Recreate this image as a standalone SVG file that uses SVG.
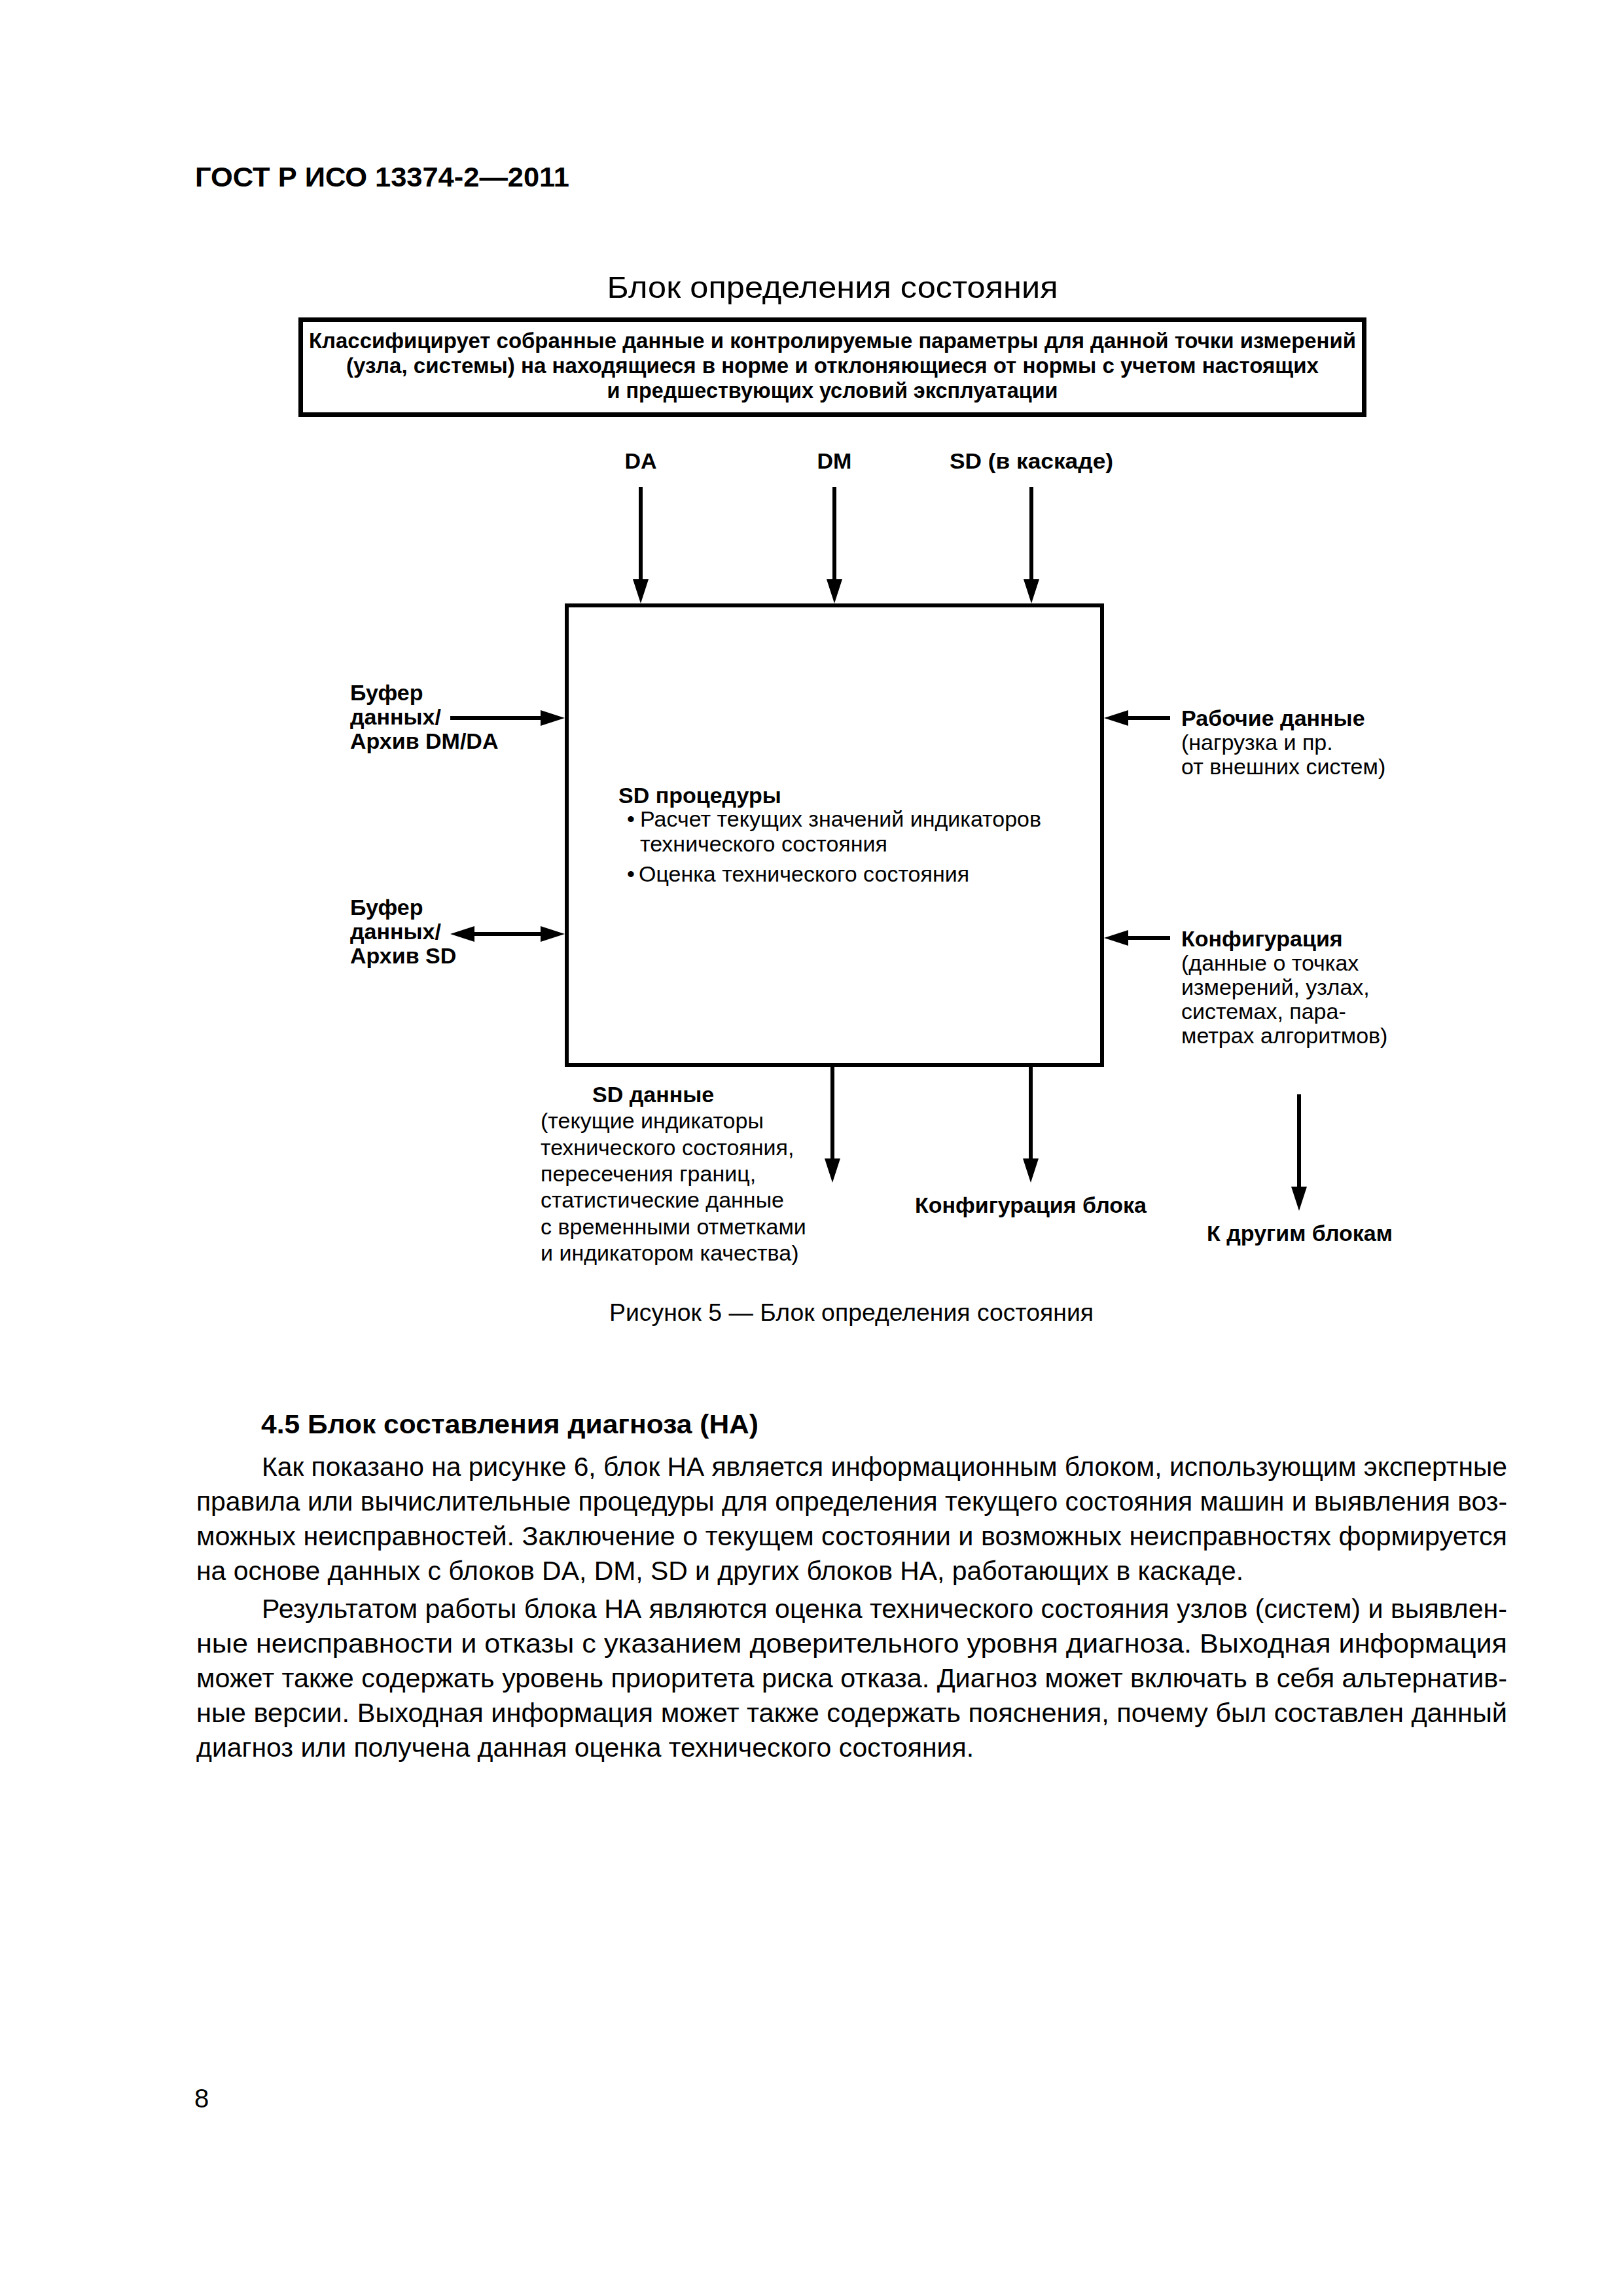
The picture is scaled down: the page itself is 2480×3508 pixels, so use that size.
<svg xmlns="http://www.w3.org/2000/svg" width="2480" height="3508" viewBox="0 0 2480 3508">
<style>
text{font-family:"Liberation Sans",Arial,sans-serif;fill:#000}
.b{font-weight:bold}
.lbl{font-size:34px}
.body{font-size:41px}
.frame{fill:none;stroke:#000}
.con{stroke:#000;stroke-width:6;fill:none}
</style>
<defs>
<marker id="ah" markerUnits="userSpaceOnUse" markerWidth="37" markerHeight="24" refX="0" refY="12" orient="auto-start-reverse" viewBox="0 0 37 24"><path d="M0,0 L37,12 L0,24 z" fill="#000"/></marker>
</defs>
<rect width="2480" height="3508" fill="#fff"/>

<g id="page-header">
<text x="298" y="285" class="b" font-size="42" textLength="572" lengthAdjust="spacingAndGlyphs">ГОСТ Р ИСО 13374-2—2011</text>
</g>

<g id="diagram-title">
<text x="1272" y="455" font-size="46" text-anchor="middle" textLength="689" lengthAdjust="spacingAndGlyphs">Блок определения состояния</text>
</g>

<g id="node-description">
<rect class="frame" stroke-width="7" x="459.5" y="488.5" width="1625" height="145"/>
<text class="b" font-size="33" x="1272" y="532" text-anchor="middle" textLength="1600" lengthAdjust="spacingAndGlyphs">Классифицирует собранные данные и контролируемые параметры для данной точки измерений</text>
<text class="b" font-size="33" x="1272" y="570" text-anchor="middle" textLength="1486" lengthAdjust="spacingAndGlyphs">(узла, системы) на находящиеся в норме и отклоняющиеся от нормы с учетом настоящих</text>
<text class="b" font-size="33" x="1272" y="608" text-anchor="middle" textLength="689" lengthAdjust="spacingAndGlyphs">и предшествующих условий эксплуатации</text>
</g>

<g id="node-inputs-top">
<text class="b lbl" x="979" y="716" text-anchor="middle">DA</text>
<text class="b lbl" x="1275" y="716" text-anchor="middle">DM</text>
<text class="b lbl" x="1576" y="716" text-anchor="middle" textLength="250" lengthAdjust="spacingAndGlyphs">SD (в каскаде)</text>
</g>

<g id="node-sd-block">
<rect class="frame" stroke-width="6" x="866" y="925" width="818" height="702"/>
<text class="b lbl" x="945" y="1227">SD процедуры</text>
<text class="lbl" x="958" y="1263">•</text>
<text class="lbl" x="978" y="1263">Расчет текущих значений индикаторов</text>
<text class="lbl" x="978" y="1301">технического состояния</text>
<text class="lbl" x="958" y="1347">•</text>
<text class="lbl" x="976" y="1347">Оценка технического состояния</text>
</g>

<g id="node-buffer-dmda">
<text class="b lbl" x="535" y="1070">Буфер</text>
<text class="b lbl" x="535" y="1107">данных/</text>
<text class="b lbl" x="535" y="1144">Архив DM/DA</text>
</g>

<g id="node-buffer-sd">
<text class="b lbl" x="535" y="1398">Буфер</text>
<text class="b lbl" x="535" y="1435">данных/</text>
<text class="b lbl" x="535" y="1472">Архив SD</text>
</g>

<g id="node-operating-data">
<text class="b lbl" x="1805" y="1109">Рабочие данные</text>
<text class="lbl" x="1805" y="1146">(нагрузка и пр.</text>
<text class="lbl" x="1805" y="1183">от внешних систем)</text>
</g>

<g id="node-configuration">
<text class="b lbl" x="1805" y="1446">Конфигурация</text>
<text class="lbl" x="1805" y="1483">(данные о точках</text>
<text class="lbl" x="1805" y="1520">измерений, узлах,</text>
<text class="lbl" x="1805" y="1557">системах, пара-</text>
<text class="lbl" x="1805" y="1594">метрах алгоритмов)</text>
</g>

<g id="node-sd-data">
<text class="b lbl" x="905" y="1684">SD данные</text>
<text class="lbl" x="826" y="1724">(текущие индикаторы</text>
<text class="lbl" x="826" y="1765">технического состояния,</text>
<text class="lbl" x="826" y="1805">пересечения границ,</text>
<text class="lbl" x="826" y="1845">статистические данные</text>
<text class="lbl" x="826" y="1886">с временными отметками</text>
<text class="lbl" x="826" y="1926">и индикатором качества)</text>
</g>

<g id="node-block-config">
<text class="b lbl" x="1575" y="1853" text-anchor="middle">Конфигурация блока</text>
</g>

<g id="node-other-blocks">
<text class="b lbl" x="1986" y="1896" text-anchor="middle">К другим блокам</text>
</g>

<g id="connectors">
<line class="con" x1="979" y1="744" x2="979" y2="885" marker-end="url(#ah)"/>
<line class="con" x1="1275" y1="744" x2="1275" y2="885" marker-end="url(#ah)"/>
<line class="con" x1="1576" y1="744" x2="1576" y2="885" marker-end="url(#ah)"/>
<line class="con" x1="688" y1="1097" x2="826" y2="1097" marker-end="url(#ah)"/>
<line class="con" x1="725" y1="1427" x2="826" y2="1427" marker-start="url(#ah)" marker-end="url(#ah)"/>
<line class="con" x1="1788" y1="1097" x2="1724" y2="1097" marker-end="url(#ah)"/>
<line class="con" x1="1788" y1="1433" x2="1724" y2="1433" marker-end="url(#ah)"/>
<line class="con" x1="1272" y1="1630" x2="1272" y2="1770" marker-end="url(#ah)"/>
<line class="con" x1="1575" y1="1630" x2="1575" y2="1770" marker-end="url(#ah)"/>
<line class="con" x1="1985" y1="1672" x2="1985" y2="1813" marker-end="url(#ah)"/>
</g>

<g id="figure-caption">
<text x="1301" y="2018" font-size="36" text-anchor="middle" textLength="740" lengthAdjust="spacingAndGlyphs">Рисунок 5 — Блок определения состояния</text>
</g>

<g id="section-text">
<text class="b body" x="399" y="2190" textLength="760" lengthAdjust="spacingAndGlyphs">4.5  Блок составления диагноза (НА)</text>
<text class="body" x="400" y="2255" textLength="1903" lengthAdjust="spacingAndGlyphs">Как показано на рисунке 6, блок НА является информационным блоком, использующим экспертные</text>
<text class="body" x="300" y="2308" textLength="2003" lengthAdjust="spacingAndGlyphs">правила или вычислительные процедуры для определения текущего состояния машин и выявления воз-</text>
<text class="body" x="300" y="2361" textLength="2003" lengthAdjust="spacingAndGlyphs">можных неисправностей. Заключение о текущем состоянии и возможных неисправностях формируется</text>
<text class="body" x="300" y="2414" textLength="1600" lengthAdjust="spacingAndGlyphs">на основе данных с блоков DA, DM, SD и других блоков НА, работающих в каскаде.</text>
<text class="body" x="400" y="2472" textLength="1903" lengthAdjust="spacingAndGlyphs">Результатом работы блока НА являются оценка технического состояния узлов (систем) и выявлен-</text>
<text class="body" x="300" y="2525" textLength="2003" lengthAdjust="spacingAndGlyphs">ные неисправности и отказы с указанием доверительного уровня диагноза. Выходная информация</text>
<text class="body" x="300" y="2578" textLength="2003" lengthAdjust="spacingAndGlyphs">может также содержать уровень приоритета риска отказа. Диагноз может включать в себя альтернатив-</text>
<text class="body" x="300" y="2631" textLength="2003" lengthAdjust="spacingAndGlyphs">ные версии. Выходная информация может также содержать пояснения, почему был составлен данный</text>
<text class="body" x="300" y="2684" textLength="1188" lengthAdjust="spacingAndGlyphs">диагноз или получена данная оценка технического состояния.</text>
</g>

<g id="page-number">
<text x="297" y="3220" font-size="40">8</text>
</g>
</svg>
